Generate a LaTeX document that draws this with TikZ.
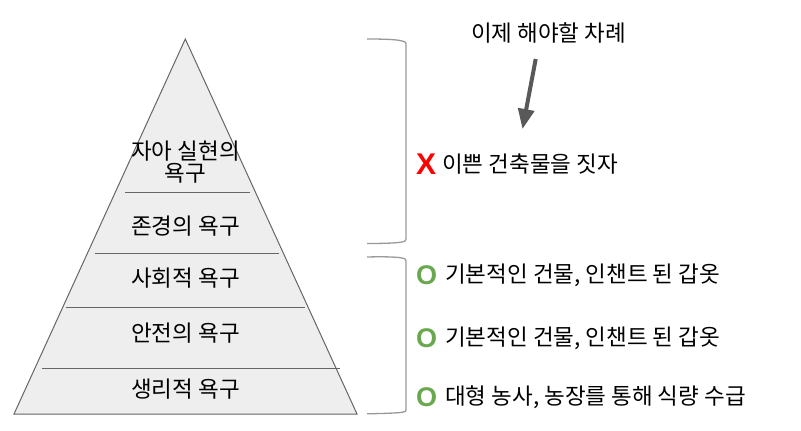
\documentclass[tikz,border=0pt]{standalone}
\usepackage{fontspec}
\setmainfont{Noto Sans CJK KR}
\newfontfamily\markfont{Liberation Sans}
\usetikzlibrary{arrows.meta}
\definecolor{pyrfill}{HTML}{EEEEEE}
\definecolor{pyrline}{HTML}{666666}
\definecolor{bracecol}{HTML}{999999}
\definecolor{arrowcol}{HTML}{595959}
\definecolor{okgreen}{HTML}{6AA84F}
\definecolor{nored}{HTML}{FF0000}
\tikzset{
  lvl/.style={font=\fontsize{22.5}{22}\selectfont, text=black, inner sep=0pt, align=center},
  txt/.style={font=\fontsize{22.5}{22}\selectfont, text=black, inner sep=0pt, anchor=west},
  okmark/.style={font=\markfont\bfseries\fontsize{27}{27}\selectfont, text=okgreen, inner sep=0pt, anchor=west},
  nomark/.style={font=\markfont\bfseries\fontsize{30}{30}\selectfont, text=nored, inner sep=0pt, anchor=west},
  divider/.style={draw=pyrline, line width=1pt},
  bracket/.style={draw=bracecol, line width=1.3pt},
}
\begin{document}
\begin{tikzpicture}[x=1pt,y=-1pt]
\useasboundingbox (0,0) rectangle (801,431);
% pyramid
\draw[fill=pyrfill, draw=pyrline, line width=1pt] (185.3,39) -- (357,414) -- (14,414) -- cycle;
\draw[divider] (125,192.3) -- (250,192.3);
\draw[divider] (95,253.3) -- (279,253.3);
\draw[divider] (66,307.3) -- (305,307.3);
\draw[divider] (42,368.3) -- (340,368.3);
% level labels
\node[lvl] (l5) at (185.5,162) {자아 실현의\\욕구};
\node[lvl] (l4) at (185.5,226) {존경의 욕구};
\node[lvl] (l3) at (185.5,278) {사회적 욕구};
\node[lvl] (l2) at (185.5,333) {안전의 욕구};
\node[lvl] (l1) at (185.5,389) {생리적 욕구};
% brackets
\draw[bracket] (367,39) .. controls (385,39) and (397,39.5) .. (402,41) .. controls (406,42) .. (406,46) -- (406,237) .. controls (406,241) .. (402,242) .. controls (397,243) and (385,243.5) .. (367,243.5);
\draw[bracket] (367,257) .. controls (385,256.5) and (397,257) .. (402,258) .. controls (406,259) .. (406,263) -- (406,408) .. controls (406,411.5) .. (402,412.3) .. controls (397,413) and (385,413.5) .. (367,413.8);
% title and arrow
\node[lvl] (title) at (548.5,33) {이제 해야할 차례};
\coordinate (a1) at (535.7,59);
\coordinate (a2) at (522.5,129);
\draw[draw=arrowcol, line width=4pt, -{Triangle[width=16pt,length=20pt]}] (a1) -- (a2);
% right items
\node[nomark] (x1) at (416,164) {X};
\node[txt] (t1) at (442,164) {이쁜 건축물을 짓자};
\node[okmark] (o1) at (416,275) {O};
\node[txt] (t2) at (445,275) {기본적인 건물, 인챈트 된 갑옷};
\node[okmark] (o2) at (416,338) {O};
\node[txt] (t3) at (445,338) {기본적인 건물, 인챈트 된 갑옷};
\node[okmark] (o3) at (416,397) {O};
\node[txt] (t4) at (445,397) {대형 농사, 농장를 통해 식량 수급};
\end{tikzpicture}
\end{document}
